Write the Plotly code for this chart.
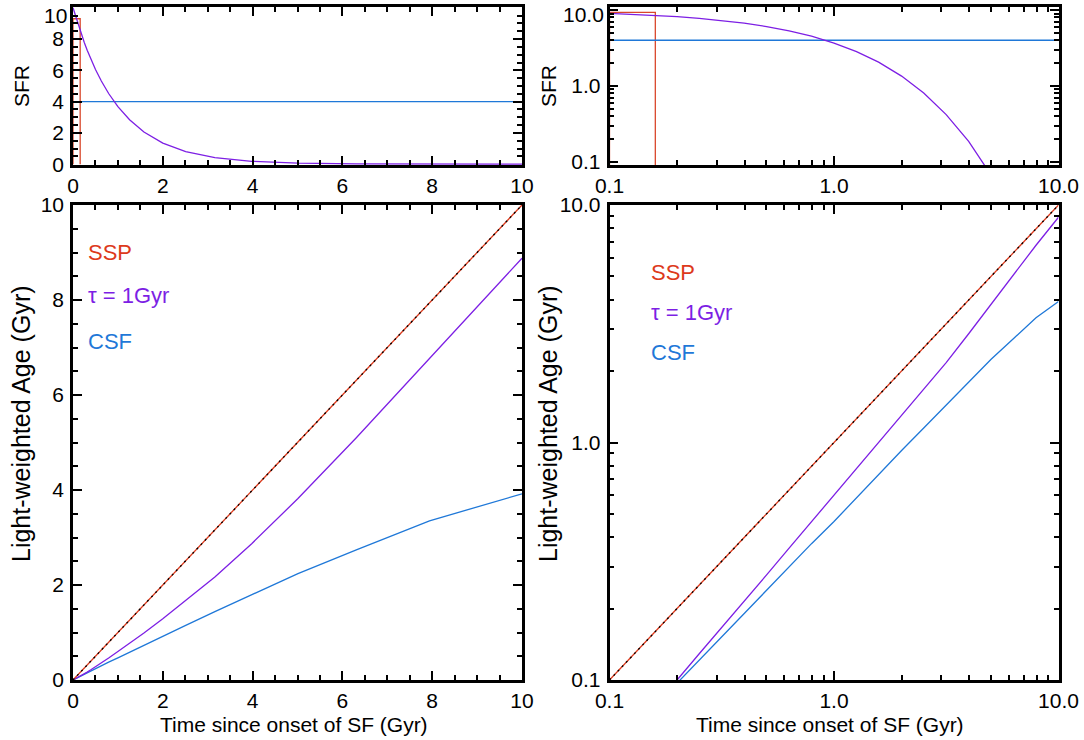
import plotly.graph_objects as go

FONT = "Liberation Sans, Arial, Helvetica, sans-serif"
RED = "#dd3a1c"
BOXRED = "#d9472b"
PURPLE = "#7d1fe4"
BLUE = "#1f78d8"

# ---------------- data ----------------
# time grid (Gyr)
t_grid = [0.0, 0.1, 0.126, 0.158, 0.2, 0.251, 0.316, 0.398, 0.501, 0.631, 0.794,
          1.0, 1.26, 1.58, 2.0, 2.51, 3.16, 3.98, 5.01, 6.31, 7.94, 10.0]
# tau = 1 Gyr star formation rate
sfr_tau = [10.0, 9.05, 8.82, 8.54, 8.19, 7.78, 7.29, 6.72, 6.06, 5.32, 4.52,
           3.68, 2.84, 2.06, 1.35, 0.81, 0.42, 0.187, 0.067, 0.018, 0.0036, 0.00045]
# constant star formation rate
csf_t = [0.0, 10.0]
csf_sfr = [4.0, 4.0]
# SSP burst
ssp_t = [0.0, 0.0, 0.16, 0.16]
ssp_sfr = [0.0, 9.3, 9.3, 0.0]

# light-weighted ages (Gyr)
age_ssp = [0.0, 0.1, 0.126, 0.158, 0.2, 0.251, 0.316, 0.398, 0.501, 0.631, 0.794,
           1.0, 1.26, 1.58, 2.0, 2.51, 3.16, 3.98, 5.01, 6.31, 7.94, 10.0]
age_tau = [0.0, 0.048, 0.062, 0.078, 0.1, 0.129, 0.166, 0.215, 0.277, 0.359, 0.464,
           0.6, 0.77, 0.99, 1.29, 1.67, 2.17, 2.87, 3.82, 5.1, 6.77, 8.88]
age_csf = [0.0, 0.049, 0.061, 0.077, 0.097, 0.121, 0.152, 0.19, 0.238, 0.298, 0.375,
           0.465, 0.585, 0.735, 0.925, 1.15, 1.44, 1.80, 2.24, 2.74, 3.35, 3.92]

lin_ticks = [0, 2, 4, 6, 8, 10]
lin_ticktext = ["0", "2", "4", "6", "8", "10"]
log_ticks = [0.1, 1.0, 10.0]
log_ticktext = ["0.1", "1.0", "10.0"]
log_minor = [0.2, 0.3, 0.4, 0.5, 0.6, 0.7, 0.8, 0.9, 2, 3, 4, 5, 6, 7, 8, 9]

# ---------------- figure ----------------
W, H = 1084, 740
def px_x(p): return p / W
def px_y(p): return 1 - p / H

xL = [px_x(73), px_x(522)]
xR = [px_x(609.5), px_x(1058.5)]
yT = [px_y(165), px_y(7)]
yB = [px_y(680), px_y(205)]

fig = go.Figure()

def line(x, y, color, xa, ya, width=1.3, dash=None):
    fig.add_trace(go.Scatter(x=x, y=y, mode="lines", xaxis=xa, yaxis=ya,
                             line=dict(color=color, width=width, dash=dash),
                             showlegend=False, hoverinfo="skip"))

# top-left (linear)
line(ssp_t, ssp_sfr, BOXRED, "x", "y")
line(csf_t, csf_sfr, BLUE, "x", "y")
line(t_grid, sfr_tau, PURPLE, "x", "y")

# top-right (log)
ssp_t_log = [max(v, 0.1) for v in ssp_t]
ssp_sfr_log = [max(v, 0.01) for v in ssp_sfr]
line(ssp_t_log, ssp_sfr_log, BOXRED, "x2", "y2")
line([0.1, 10.0], csf_sfr, BLUE, "x2", "y2")
line(t_grid[1:], sfr_tau[1:], PURPLE, "x2", "y2")

# bottom-left (linear)
line(t_grid, age_csf, BLUE, "x3", "y3")
line(t_grid, age_tau, PURPLE, "x3", "y3")
line(t_grid, age_ssp, RED, "x3", "y3")
line(t_grid, age_ssp, "black", "x3", "y3", width=1.3, dash="2px,4px")

# bottom-right (log)
line(t_grid[1:], age_csf[1:], BLUE, "x4", "y4")
line(t_grid[1:], age_tau[1:], PURPLE, "x4", "y4")
line(t_grid[1:], age_ssp[1:], RED, "x4", "y4")
line(t_grid[1:], age_ssp[1:], "black", "x4", "y4", width=1.3, dash="2px,4px")

tickfont = dict(family=FONT, size=21, color="black")

def common(domain, anchor, rng, standoff):
    return dict(domain=domain, anchor=anchor, range=rng, showline=True, linecolor="black",
                linewidth=2.5, mirror="allticks", ticks="inside", ticklen=9, tickwidth=2,
                tickcolor="black", showgrid=False, zeroline=False, automargin=False,
                tickfont=tickfont, ticklabelstandoff=standoff, ticklabeloverflow="allow")

def lin_axis(domain, anchor, rng, standoff, hide_top=False):
    d = common(domain, anchor, rng, standoff)
    txt = list(lin_ticktext)
    if hide_top:
        txt[-1] = ""
    d.update(tickvals=lin_ticks, ticktext=txt,
             minor=dict(ticks="inside", ticklen=5, tickwidth=2, dtick=0.5,
                        tickcolor="black", showgrid=False))
    return d

def log_axis(domain, anchor, rng, standoff, hide_top=False):
    d = common(domain, anchor, rng, standoff)
    txt = list(log_ticktext)
    if hide_top:
        txt[-1] = ""
    d.update(type="log", tickvals=log_ticks, ticktext=txt,
             minor=dict(ticks="inside", ticklen=5, tickwidth=2, tickvals=log_minor,
                        tickcolor="black", showgrid=False))
    return d

fig.update_layout(
    width=W, height=H, margin=dict(l=0, r=0, t=0, b=0, autoexpand=False),
    paper_bgcolor="white", plot_bgcolor="white",
    font=dict(family=FONT, size=21, color="black"),
    xaxis=lin_axis(xL, "y", [0, 10], 0),
    yaxis=lin_axis(yT, "x", [-0.05, 10.05], 2, hide_top=True),
    xaxis2=log_axis(xR, "y2", [-1, 1], 0),
    yaxis2=log_axis(yT, "x2", [-1.04, 1.04], 2, hide_top=True),
    xaxis3=lin_axis(xL, "y3", [0, 10], 0),
    yaxis3=lin_axis(yB, "x3", [0, 10], 2),
    xaxis4=log_axis(xR, "y4", [-1, 1], 0),
    yaxis4=log_axis(yB, "x4", [-1, 1], 2),
)

anns = []
def ann(text, x, y, color="black", rot=0, xanchor="center", size=21):
    anns.append(dict(text=text, x=px_x(x), y=px_y(y), xref="paper", yref="paper",
                     showarrow=False, textangle=rot, xanchor=xanchor, yanchor="middle",
                     font=dict(family=FONT, size=size, color=color)))

# top tick labels of the SFR panels (placed just inside the page edge)
ann(lin_ticktext[-1], 69, 15, xanchor="right")
ann(log_ticktext[-1], 606, 14, xanchor="right")

ann("SFR", 21, 86, rot=-90)
ann("SFR", 548, 86, rot=-90)
ann("Light-weighted Age (Gyr)", 21, 424, rot=-90, size=25)
ann("Light-weighted Age (Gyr)", 548, 424, rot=-90, size=25)
ann("Time since onset of SF (Gyr)", 294, 724)
ann("Time since onset of SF (Gyr)", 830, 724)

ann("SSP", 86, 252, RED, xanchor="left", size=22)
ann("τ = 1Gyr", 86, 295, PURPLE, xanchor="left", size=22)
ann("CSF", 86, 342, BLUE, xanchor="left", size=22)
ann("SSP", 649, 272, RED, xanchor="left", size=22)
ann("τ = 1Gyr", 649, 312, PURPLE, xanchor="left", size=22)
ann("CSF", 649, 352, BLUE, xanchor="left", size=22)

fig.update_layout(annotations=anns)
fig.write_html("out.html", config={"displayModeBar": False},
               post_script="document.body.style.margin='0px';document.body.style.overflow='hidden';")
